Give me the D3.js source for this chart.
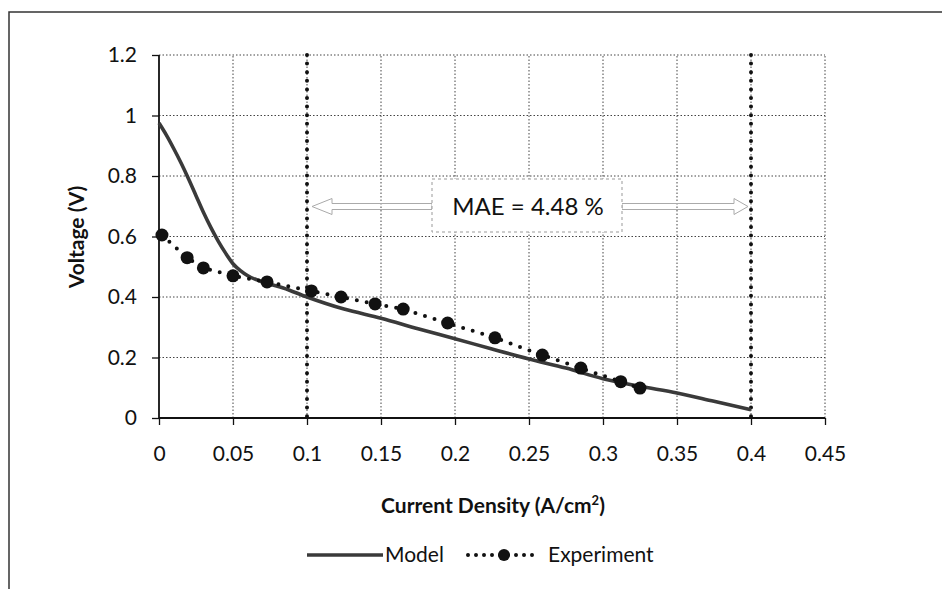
<!DOCTYPE html>
<html><head><meta charset="utf-8">
<script src="https://cdn.jsdelivr.net/npm/d3@7"></script>
<style>body{margin:0;background:#fff;} svg{display:block;} text{font-family:Lato,"Open Sans",sans-serif;fill:#111;}</style>
</head><body>
<svg id="c" width="942" height="589"></svg>
<script>
const modelX = [0,0.005,0.01,0.015,0.02,0.025,0.03,0.035,0.04,0.045,0.05,0.055,0.06,0.07,0.084,0.1,0.125,0.15,0.175,0.2,0.225,0.25,0.275,0.3,0.325,0.35,0.375,0.4];
const modelY = [0.975,0.935,0.89,0.842,0.79,0.735,0.68,0.63,0.585,0.545,0.51,0.487,0.47,0.45,0.43,0.40,0.36,0.33,0.295,0.262,0.228,0.195,0.165,0.13,0.105,0.083,0.055,0.027];
const expX = [0.002,0.019,0.030,0.050,0.073,0.103,0.123,0.146,0.165,0.195,0.227,0.259,0.285,0.312,0.325];
const expY = [0.605,0.53,0.496,0.47,0.45,0.42,0.40,0.377,0.36,0.314,0.265,0.208,0.165,0.12,0.099];
const xTicks = [0,0.05,0.1,0.15,0.2,0.25,0.3,0.35,0.4,0.45];
const yTicks = [0,0.2,0.4,0.6,0.8,1,1.2];
const markerLines = [0.1,0.4];
const maeLabel = "MAE = 4.48 %";

const svg = d3.select("#c");
const x = d3.scaleLinear().domain([0,0.45]).range([159,825]);
const y = d3.scaleLinear().domain([0,1.2]).range([418,55]);
const FS = 21;

// outer frame
svg.append("path").attr("d","M9,589 L9,12 L942,12").attr("fill","none").attr("stroke","#333").attr("stroke-width",1.5);

// grid
const g = svg.append("g");
g.selectAll(".hg").data(yTicks.filter(d=>d>0)).join("line")
 .attr("x1",x(0)).attr("x2",x(0.45)).attr("y1",d=>y(d)).attr("y2",d=>y(d))
 .attr("stroke","#444").attr("stroke-width",1).attr("stroke-dasharray","1.5,2");
g.selectAll(".vg").data(xTicks.filter(d=>d>0)).join("line")
 .attr("x1",d=>x(d)).attr("x2",d=>x(d)).attr("y1",y(0)).attr("y2",y(1.2))
 .attr("stroke","#444").attr("stroke-width",1).attr("stroke-dasharray","1.5,2");

// axes
const xAxis = d3.axisBottom(x).tickValues(xTicks).tickSize(7).tickPadding(21).tickFormat(d=>String(d));
const yAxis = d3.axisLeft(y).tickValues(yTicks).tickSize(7).tickPadding(15).tickFormat(d=>String(d));
const ax = svg.append("g").attr("transform",`translate(0,${y(0)})`).call(xAxis);
const ay = svg.append("g").attr("transform",`translate(${x(0)},0)`).call(yAxis);
[ax,ay].forEach(a=>{
  a.select(".domain").attr("stroke","#111").attr("stroke-width",1.8);
  a.selectAll(".tick line").attr("stroke","#111").attr("stroke-width",1.3);
  a.selectAll(".tick text").attr("font-size",FS).attr("fill","#111").style("font-family","Lato,'Open Sans',sans-serif");
});
ax.select(".domain").attr("d",`M${x(0)},0H${x(0.45)}`);
ay.select(".domain").attr("d",`M0,${y(0)}V${y(1.2)}`);

// vertical marker lines
svg.selectAll(".ml").data(markerLines).join("line")
 .attr("x1",d=>x(d)).attr("x2",d=>x(d)).attr("y1",y(1.2)).attr("y2",y(0)+2)
 .attr("stroke","#111").attr("stroke-width",4).attr("stroke-linecap","round").attr("stroke-dasharray","0,8.6");

// model line
const line = d3.line().x(d=>x(d[0])).y(d=>y(d[1])).curve(d3.curveMonotoneX);
svg.append("path").datum(modelX.map((v,i)=>[v,modelY[i]])).attr("d",line)
 .attr("fill","none").attr("stroke","#3a3a3a").attr("stroke-width",3.6);

// experiment
const expData = expX.map((v,i)=>[v,expY[i]]);
svg.append("path").datum(expData).attr("d",d3.line().x(d=>x(d[0])).y(d=>y(d[1])))
 .attr("fill","none").attr("stroke","#111").attr("stroke-width",4).attr("stroke-linecap","round").attr("stroke-dasharray","0,10");
svg.selectAll(".pt").data(expData).join("circle")
 .attr("cx",d=>x(d[0])).attr("cy",d=>y(d[1])).attr("r",6.5).attr("fill","#111");

// annotation arrows
const ac = "#aaa";
const ymid = 206.5;
const xl = x(0.1)+5, xr = x(0.4)-3;
svg.append("path").attr("d",`M${xl},${ymid} L${xl+20},${ymid-8} L${xl+20},${ymid-3} L432,${ymid-3} L432,${ymid+3} L${xl+20},${ymid+3} L${xl+20},${ymid+8} Z`)
 .attr("fill","none").attr("stroke",ac).attr("stroke-width",1);
svg.append("path").attr("d",`M${xr},${ymid} L${xr-14},${ymid-8} L${xr-14},${ymid-3} L622,${ymid-3} L622,${ymid+3} L${xr-14},${ymid+3} L${xr-14},${ymid+8} Z`)
 .attr("fill","none").attr("stroke",ac).attr("stroke-width",1);
svg.append("rect").attr("x",432).attr("y",179).attr("width",190).attr("height",53)
 .attr("fill","#fff").attr("stroke","#999").attr("stroke-width",1).attr("stroke-dasharray","3,3");
svg.append("text").attr("x",528).attr("y",215).attr("text-anchor","middle").attr("font-size",24).text(maeLabel);

// axis titles
svg.append("text").attr("transform","translate(84,237) rotate(-90)").attr("text-anchor","middle")
 .attr("font-size",FS).attr("font-weight","bold").text("Voltage (V)");
const xt = svg.append("text").attr("x",493).attr("y",513).attr("text-anchor","middle").attr("font-size",FS).attr("font-weight","bold");
xt.append("tspan").text("Current Density (A/cm");
xt.append("tspan").attr("font-size",13).attr("dy",-8).text("2");
xt.append("tspan").attr("dy",8).text(")");

// legend
const ly = 555;
svg.append("line").attr("x1",307).attr("x2",383).attr("y1",ly).attr("y2",ly).attr("stroke","#3a3a3a").attr("stroke-width",3.6);
svg.append("text").attr("x",385).attr("y",ly+7).attr("font-size",FS).text("Model");
svg.append("line").attr("x1",468).attr("x2",540).attr("y1",ly).attr("y2",ly).attr("stroke","#111").attr("stroke-width",4).attr("stroke-linecap","round").attr("stroke-dasharray","0,8");
svg.append("circle").attr("cx",504).attr("cy",ly).attr("r",6).attr("fill","#111");
svg.append("text").attr("x",548).attr("y",ly+7).attr("font-size",FS).text("Experiment");
</script>
</body></html>
